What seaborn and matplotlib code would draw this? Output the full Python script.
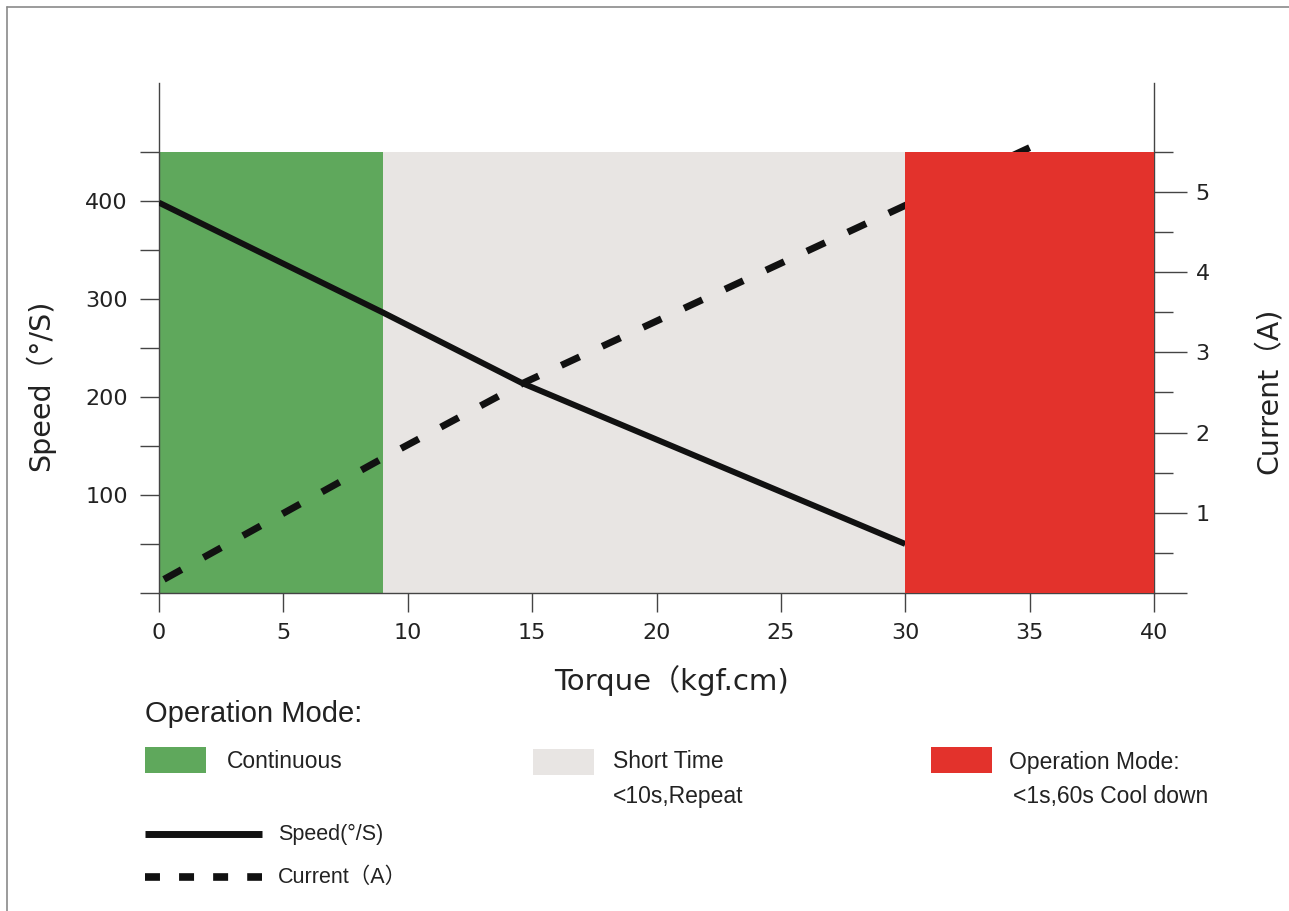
import matplotlib
matplotlib.use("Agg")
import matplotlib.pyplot as plt
import seaborn as sns
import numpy as np
from matplotlib.patches import Rectangle
from matplotlib.lines import Line2D

# ---------------- data ----------------
torque_speed = [0, 9, 14.6, 30]
speed = [398, 286, 214, 50]
torque_current = [0.2, 9, 14.6, 30, 35]
current = [0.17, 1.68, 2.61, 4.83, 5.55]

zone_names = ["Continuous", "Short Time", "Operation Mode:"]
zone_sub = ["", "<10s,Repeat", "<1s,60s Cool down"]
zone_start = [0, 9, 30]
zone_end = [9, 30, 40]
zone_colors = ["#5fa85c", "#e8e5e3", "#e3322c"]

x_ticks = [0, 5, 10, 15, 20, 25, 30, 35, 40]
speed_ticks = [0, 100, 200, 300, 400]
speed_minor = [50, 150, 250, 350, 450]
current_ticks = [0, 1, 2, 3, 4, 5]
current_minor = [0.5, 1.5, 2.5, 3.5, 4.5, 5.5]
zone_top_speed = 450
zone_top_current = 5.5

# ---------------- style ----------------
sns.set_style("white")
plt.rcParams["font.family"] = ["DejaVu Sans", "Noto Sans CJK SC"]
wide = ["DejaVu Sans", "Noto Sans CJK SC"]
narrow = ["Liberation Sans", "Noto Sans CJK SC", "DejaVu Sans"]

W, H = 1289, 911
fig = plt.figure(figsize=(W / 100, H / 100), dpi=100)
fig.patch.set_facecolor("white")

def fx(x):
    return x / W

def fy(y):
    return 1 - y / H

ax = fig.add_axes([fx(159), fy(593), fx(1154) - fx(159), fy(83) - fy(593)])
ax.set_xlim(0, 40)
ymax = 520
ax.set_ylim(0, ymax)
ax2 = ax.twinx()
ax2.set_ylim(0, ymax * zone_top_current / zone_top_speed)

# zones (green and grey under the lines, red above the current line)
for i in range(2):
    ax.add_patch(Rectangle((zone_start[i], 0), zone_end[i] - zone_start[i], zone_top_speed,
                           facecolor=zone_colors[i], edgecolor="none", zorder=0))
ax2.add_patch(Rectangle((zone_start[2], 0), zone_end[2] - zone_start[2], zone_top_current,
                        facecolor=zone_colors[2], edgecolor="none", zorder=5))

sns.lineplot(x=torque_speed, y=speed, ax=ax, color="#111111", linewidth=4.3,
             solid_capstyle="butt", zorder=3)
sns.lineplot(x=torque_current, y=current, ax=ax2, color="#111111", linewidth=5.0,
             linestyle=(0, (2.9, 3.6)), dash_capstyle="butt", zorder=3)

spine_col = "#444444"
for a in (ax, ax2):
    a.spines["top"].set_visible(False)
    for s in ("left", "right", "bottom"):
        a.spines[s].set_color(spine_col)
        a.spines[s].set_linewidth(1.0)
    a.set_facecolor("none")
    a.grid(False)
ax.spines["right"].set_visible(False)
ax2.spines["left"].set_visible(False)
ax2.spines["bottom"].set_visible(False)

ax.set_xticks(x_ticks)
ax.set_xticklabels([str(t) for t in x_ticks])
ax.set_yticks(speed_ticks)
ax.set_yticklabels(["" if t == 0 else str(t) for t in speed_ticks])
ax.set_yticks(speed_minor, minor=True)
ax2.set_yticks(current_ticks)
ax2.set_yticklabels(["" if t == 0 else str(t) for t in current_ticks])
ax2.set_yticks(current_minor, minor=True)

ax.tick_params(axis="x", direction="out", length=13.5, width=1.0, color=spine_col,
               labelsize=16, pad=8, labelcolor="#222222", bottom=True)
ax.tick_params(axis="y", which="both", direction="out", length=13.5, width=1.0,
               color=spine_col, labelsize=16, pad=9, labelcolor="#222222", left=True)
ax2.tick_params(axis="y", which="major", direction="out", length=24, width=1.0,
                color=spine_col, labelsize=16, pad=6, labelcolor="#222222", right=True)
ax2.tick_params(axis="y", which="minor", direction="out", length=14, width=1.0,
                color=spine_col, right=True)
ax.set_xlabel("")
ax.set_ylabel("")
ax2.set_ylabel("")

# axis titles
fig.text(fx(40), fy(385), "Speed（°/S)", rotation=90, ha="center", va="center",
         fontsize=20.5, family=wide, color="#222222")
fig.text(fx(1269), fy(391), "Current（A)", rotation=90, ha="center", va="center",
         fontsize=20.5, family=wide, color="#222222")
fig.text(fx(671), fy(681), "Torque（kgf.cm)", ha="center", va="center",
         fontsize=21, family=wide, color="#222222")

# legend area
fig.text(fx(145), fy(714), "Operation Mode:", ha="left", va="center",
         fontsize=21, family=narrow, color="#222222")
leg_x = [145, 533, 931]
leg_y = [747, 749, 747]
text_x = [227, 613, 1009]
for i in range(3):
    fig.add_artist(Rectangle((fx(leg_x[i]), fy(leg_y[i] + 26)), fx(61), 26 / H,
                             transform=fig.transFigure, facecolor=zone_colors[i],
                             edgecolor="none"))
    fig.text(fx(text_x[i]), fy(762), zone_names[i], ha="left", va="center",
             fontsize=16.5, family=narrow, color="#222222")
    if zone_sub[i]:
        fig.text(fx(text_x[i] + (4 if i == 2 else 0)), fy(796), zone_sub[i], ha="left",
                 va="center", fontsize=16.5, family=narrow, color="#222222")

fig.add_artist(Line2D([fx(145), fx(262)], [fy(834), fy(834)], transform=fig.transFigure,
                      color="#111111", linewidth=5.0, solid_capstyle="butt"))
fig.text(fx(278), fy(834), "Speed(°/S)", ha="left", va="center", fontsize=15.5,
         family=narrow, color="#222222")
fig.add_artist(Line2D([fx(145), fx(262)], [fy(877), fy(877)], transform=fig.transFigure,
                      color="#111111", linewidth=5.5, linestyle=(0, (1.96, 2.5)),
                      dash_capstyle="butt"))
fig.text(fx(278), fy(877), "Current（A）", ha="left", va="center", fontsize=15.5,
         family=narrow, color="#222222")

# image frame (left and top edges)
fig.add_artist(Line2D([fx(6.5), fx(6.5)], [0, fy(6.5)], transform=fig.transFigure,
                      color="#8a8a8a", linewidth=1.2))
fig.add_artist(Line2D([fx(6.5), 1], [fy(6.5), fy(6.5)], transform=fig.transFigure,
                      color="#8a8a8a", linewidth=1.2))

fig.savefig("out.png", dpi=100, facecolor="white")
